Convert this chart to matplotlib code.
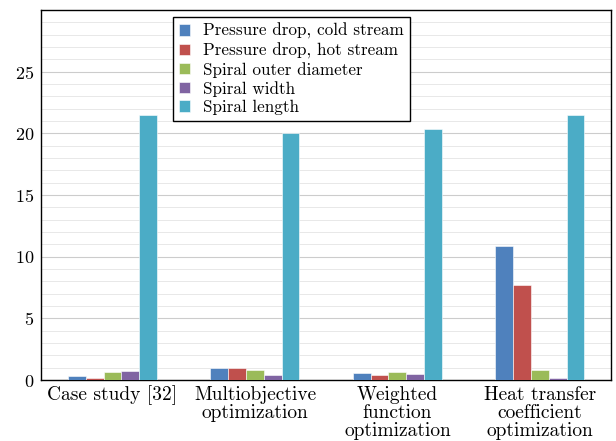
import numpy as np
import matplotlib.pyplot as plt

plt.rcParams['font.family'] = 'cmr10'
plt.rcParams['axes.formatter.use_mathtext'] = True
plt.rcParams['mathtext.fontset'] = 'cm'

categories = ['Case study [32]', 'Multiobjective\noptimization',
              'Weighted\nfunction\noptimization',
              'Heat transfer\ncoefficient\noptimization']
series = ['Pressure drop, cold stream', 'Pressure drop, hot stream',
          'Spiral outer diameter', 'Spiral width', 'Spiral length']
cold_dp = [0.35, 1.0, 0.6, 10.9]
hot_dp = [0.2, 0.95, 0.45, 7.7]
outer_d = [0.65, 0.8, 0.65, 0.8]
width = [0.75, 0.45, 0.5, 0.15]
length = [21.5, 20.0, 20.4, 21.5]
colors = ['#4F81BD', '#C0504D', '#9BBB59', '#8064A2', '#4BACC6']

fig, ax = plt.subplots(figsize=(6.16, 4.41), dpi=100)
fig.subplots_adjust(left=0.067, right=0.992, top=0.977, bottom=0.138)

x = np.arange(len(categories))
bw = 0.125
data = [cold_dp, hot_dp, outer_d, width, length]
for i, vals in enumerate(data):
    ax.bar(x + (i - 2) * bw, vals, bw, color=colors[i], label=series[i],
           edgecolor='white', linewidth=0.4, zorder=3)

ax.set_xlim(-0.5, 3.5)
ax.set_ylim(0, 30)
ax.set_yticks([0, 5, 10, 15, 20, 25])
ax.set_yticks(np.arange(0, 30, 1), minor=True)
ax.grid(axis='y', which='major', color='#cccccc', linewidth=0.8, zorder=0)
ax.grid(axis='y', which='minor', color='#e4e4e4', linewidth=0.6, zorder=0)
ax.tick_params(axis='y', which='both', length=0, labelsize=13, pad=5)
ax.set_xticks(x)
ax.set_xticklabels(categories, fontsize=14, linespacing=1.0)
ax.tick_params(axis='x', length=0, pad=4)
for s in ax.spines.values():
    s.set_color('black')
    s.set_linewidth(1.0)

leg = ax.legend(loc='upper left', bbox_to_anchor=(0.2316, 0.981), fontsize=12.3,
                frameon=True, fancybox=False, edgecolor='black',
                handlelength=0.65, handleheight=0.65, handletextpad=0.75,
                labelspacing=0.18, borderpad=0.35, framealpha=1,
                borderaxespad=0)
leg.get_frame().set_linewidth(1.0)

plt.savefig('out.png', dpi=100)
